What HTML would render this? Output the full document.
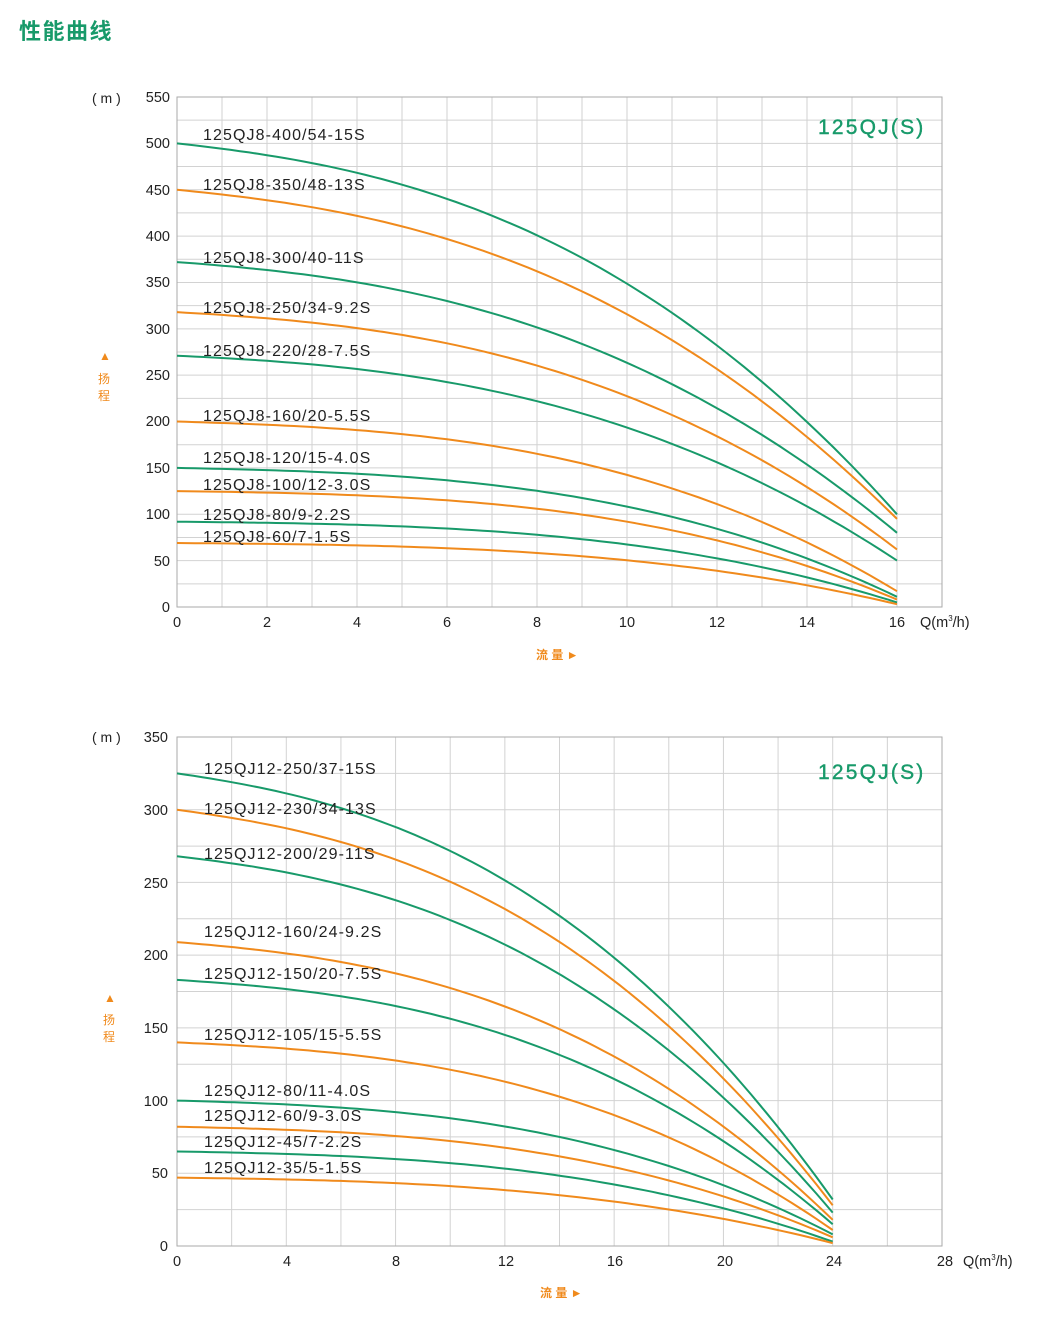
<!DOCTYPE html>
<html><head><meta charset="utf-8"><style>
body{margin:0;background:#fff;width:1048px;height:1323px;overflow:hidden;font-family:"Liberation Sans","Noto Sans CJK SC",sans-serif}
svg text{font-family:"Liberation Sans","Noto Sans CJK SC",sans-serif}
</style></head><body>
<svg id="s" width="1048" height="1323" xmlns="http://www.w3.org/2000/svg">
<text x="19" y="39" font-size="22" font-weight="bold" fill="#189a6a" letter-spacing="1.5">性能曲线</text>
<g id="g1"></g><g id="g2"></g>
<g font-size="14.5" fill="#222" text-anchor="end">
<text x="170" y="102">550</text><text x="170" y="148">500</text><text x="170" y="195">450</text><text x="170" y="241">400</text><text x="170" y="287">350</text><text x="170" y="334">300</text><text x="170" y="380">250</text><text x="170" y="426">200</text><text x="170" y="473">150</text><text x="170" y="519">100</text><text x="170" y="566">50</text><text x="170" y="612">0</text>
</g>
<g font-size="14.5" fill="#222" text-anchor="middle">
<text x="177" y="627">0</text><text x="267" y="627">2</text><text x="357" y="627">4</text><text x="447" y="627">6</text><text x="537" y="627">8</text><text x="627" y="627">10</text><text x="717" y="627">12</text><text x="807" y="627">14</text><text x="897" y="627">16</text>
</g>
<text x="920" y="627" font-size="14.5" fill="#222">Q(m<tspan font-size="8" dy="-6">3</tspan><tspan dy="6">/h)</tspan></text>
<text x="92" y="103" font-size="14" fill="#222">( m )</text>
<text x="99" y="360" font-size="12" fill="#f08a1c">▲</text>
<text x="98" y="383" font-size="12" fill="#f08a1c">扬</text><text x="98" y="400" font-size="12" fill="#f08a1c">程</text>
<text x="536" y="659" font-size="12" font-weight="bold" fill="#f08a1c">流 量 ►</text>
<text x="818" y="134" font-size="21" letter-spacing="2.2" fill="#189a6a" stroke="#189a6a" stroke-width="0.4">125QJ(S)</text>
<g font-size="16" fill="#222" letter-spacing="1.1">
<text x="203" y="140">125QJ8-400/54-15S</text><text x="203" y="190">125QJ8-350/48-13S</text><text x="203" y="263">125QJ8-300/40-11S</text><text x="203" y="313">125QJ8-250/34-9.2S</text><text x="203" y="356">125QJ8-220/28-7.5S</text><text x="203" y="421">125QJ8-160/20-5.5S</text><text x="203" y="463">125QJ8-120/15-4.0S</text><text x="203" y="490">125QJ8-100/12-3.0S</text><text x="203" y="520">125QJ8-80/9-2.2S</text><text x="203" y="542">125QJ8-60/7-1.5S</text>
</g>
<g font-size="14.5" fill="#222" text-anchor="end">
<text x="168" y="742">350</text><text x="168" y="815">300</text><text x="168" y="888">250</text><text x="168" y="960">200</text><text x="168" y="1033">150</text><text x="168" y="1106">100</text><text x="168" y="1178">50</text><text x="168" y="1251">0</text>
</g>
<g font-size="14.5" fill="#222" text-anchor="middle">
<text x="177" y="1266">0</text><text x="287" y="1266">4</text><text x="396" y="1266">8</text><text x="506" y="1266">12</text><text x="615" y="1266">16</text><text x="725" y="1266">20</text><text x="834" y="1266">24</text><text x="945" y="1266">28</text>
</g>
<text x="963" y="1266" font-size="14.5" fill="#222">Q(m<tspan font-size="8" dy="-6">3</tspan><tspan dy="6">/h)</tspan></text>
<text x="92" y="742" font-size="14" fill="#222">( m )</text>
<text x="104" y="1002" font-size="12" fill="#f08a1c">▲</text>
<text x="103" y="1024" font-size="12" fill="#f08a1c">扬</text><text x="103" y="1041" font-size="12" fill="#f08a1c">程</text>
<text x="540" y="1297" font-size="12" font-weight="bold" fill="#f08a1c">流 量 ►</text>
<text x="818" y="779" font-size="21" letter-spacing="2.2" fill="#189a6a" stroke="#189a6a" stroke-width="0.4">125QJ(S)</text>
<g font-size="16" fill="#222" letter-spacing="1.1">
<text x="204" y="774">125QJ12-250/37-15S</text><text x="204" y="814">125QJ12-230/34-13S</text><text x="204" y="859">125QJ12-200/29-11S</text><text x="204" y="937">125QJ12-160/24-9.2S</text><text x="204" y="979">125QJ12-150/20-7.5S</text><text x="204" y="1040">125QJ12-105/15-5.5S</text><text x="204" y="1096">125QJ12-80/11-4.0S</text><text x="204" y="1121">125QJ12-60/9-3.0S</text><text x="204" y="1147">125QJ12-45/7-2.2S</text><text x="204" y="1173">125QJ12-35/5-1.5S</text>
</g>
</svg>
<script>
var NS="http://www.w3.org/2000/svg";
function el(p,t,a){var e=document.createElementNS(NS,t);for(var k in a)e.setAttribute(k,a[k]);p.appendChild(e);return e;}
function chart(g,x0,x1,y0,y1,xmax,ymax,xstep,ystep,qend,curves){
  var sx=(x1-x0)/xmax, sy=(y0-y1)/ymax;
  for(var x=0;x<=xmax+1e-6;x+=xstep){var px=x0+x*sx;el(g,"line",{x1:px,x2:px,y1:y1,y2:y0,stroke:"#d2d2d2","stroke-width":1});}
  for(var y=0;y<=ymax+1e-6;y+=ystep){var py=y0-y*sy;el(g,"line",{x1:x0,x2:x1,y1:py,y2:py,stroke:"#d2d2d2","stroke-width":1});}
  el(g,"rect",{x:x0,y:y1,width:x1-x0,height:y0-y1,fill:"none",stroke:"#aaa","stroke-width":1});
  curves.forEach(function(c,i){
    var d="";for(var k=0;k<=80;k++){var q=qend*k/80,t=q/qend;var f=c[3]*t+(1-c[3])*Math.pow(t,c[2]);var h=c[0]-(c[0]-c[1])*f;
      d+=(k?"L":"M")+(x0+q*sx).toFixed(1)+" "+(y0-h*sy).toFixed(1);}
    el(g,"path",{d:d,fill:"none",stroke:i%2?"#f08a1c":"#189a6a","stroke-width":2});
  });
}
chart(document.getElementById("g1"),177,942,607,97,17,550,1,25,16,
 [[500,100,2.5,0.22],[450,95,2.5,0.22],[372,80,2.5,0.2],[318,62,2.6,0.18],[271,50,2.6,0.17],[200,17,2.8,0.13],[150,11,2.9,0.12],[125,8,3,0.1],[92,5,3,0.1],[69,3,3,0.1]]);
chart(document.getElementById("g2"),177,942,1246,737,28,350,2,25,24,
 [[325,32,2.5,0.23],[300,28,2.5,0.23],[268,23,2.5,0.22],[209,18,2.6,0.2],[183,15,2.6,0.18],[140,11,2.7,0.16],[100,8,2.8,0.14],[82,6,2.8,0.13],[65,3,2.8,0.13],[47,2,2.8,0.13]]);
</script>
</body></html>
